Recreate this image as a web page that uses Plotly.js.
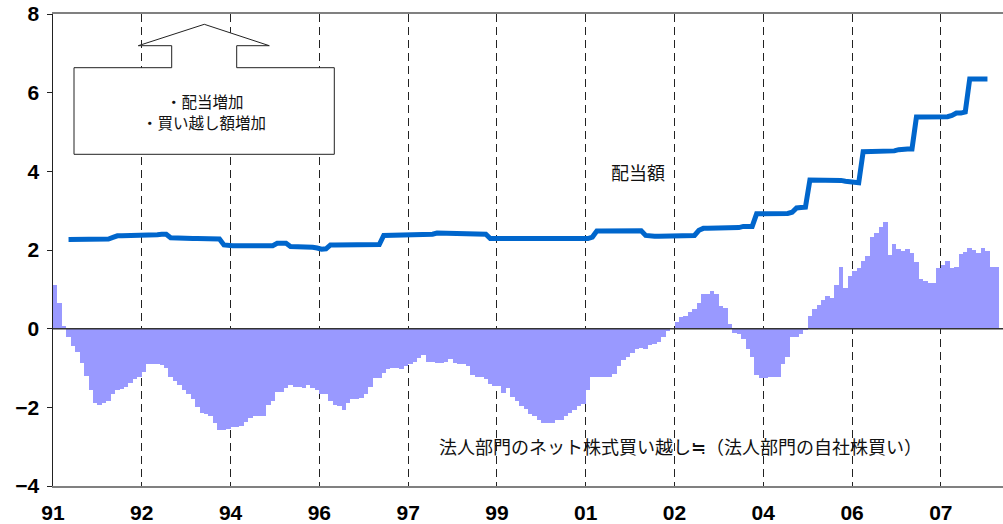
<!DOCTYPE html>
<html>
<head>
<meta charset="utf-8">
<script src="https://cdn.plot.ly/plotly-3.0.1.min.js"></script>
<style>html,body{margin:0;padding:0;background:#fff;}#chart{width:1003px;height:524px;}</style>
</head>
<body>
<div id="chart"></div>
<script>
// Monthly series starting Jan 1991 (index 0)
const tickPositions = [0, 20, 40, 60, 80, 100, 120, 140, 160, 180, 200];
const tickLabels = ["91", "92", "94", "96", "97", "99", "01", "02", "04", "06", "07"];

// 法人部門のネット株式買い越し (bars)
const netPurchase = [
  1.10,0.65,0.06,-0.20,-0.45,-0.60,-0.87,-1.21,-1.57,-1.89,
  -1.94,-1.88,-1.83,-1.66,-1.56,-1.54,-1.49,-1.39,-1.28,-1.22,
  -1.09,-0.89,-0.89,-0.90,-0.93,-1.00,-1.23,-1.32,-1.44,-1.56,
  -1.66,-1.80,-2.00,-2.15,-2.18,-2.23,-2.40,-2.57,-2.58,-2.56,
  -2.51,-2.50,-2.48,-2.38,-2.28,-2.23,-2.23,-2.22,-1.95,-1.83,
  -1.61,-1.60,-1.52,-1.42,-1.48,-1.49,-1.50,-1.43,-1.52,-1.55,
  -1.66,-1.65,-1.83,-1.95,-1.96,-2.07,-1.90,-1.79,-1.78,-1.76,
  -1.67,-1.48,-1.25,-1.25,-1.13,-1.02,-1.01,-1.00,-1.02,-0.96,
  -0.90,-0.84,-0.74,-0.67,-0.84,-0.84,-0.88,-0.88,-0.85,-0.78,
  -0.88,-0.91,-0.91,-0.96,-1.19,-1.23,-1.23,-1.29,-1.40,-1.45,
  -1.47,-1.64,-1.51,-1.74,-1.85,-1.96,-2.04,-2.17,-2.21,-2.32,
  -2.41,-2.41,-2.40,-2.32,-2.32,-2.21,-2.15,-2.08,-1.96,-1.91,
  -1.57,-1.23,-1.23,-1.24,-1.23,-1.23,-1.15,-0.95,-0.80,-0.72,
  -0.62,-0.52,-0.49,-0.52,-0.42,-0.39,-0.33,-0.20,-0.07,0.02,
  0.18,0.30,0.32,0.42,0.51,0.64,0.87,0.87,0.96,0.87,
  0.58,0.53,0.13,-0.10,-0.13,-0.26,-0.51,-0.72,-1.19,-1.25,
  -1.25,-1.24,-1.24,-1.22,-0.89,-0.72,-0.20,-0.20,-0.13,-0.04,
  0.33,0.49,0.60,0.73,0.82,0.78,1.12,1.56,1.03,1.35,
  1.46,1.54,1.73,1.86,2.33,2.43,2.58,2.71,1.88,2.15,
  2.03,1.97,2.03,1.92,1.70,1.27,1.21,1.17,1.17,1.53,
  1.61,1.71,1.53,1.56,1.91,1.95,2.04,1.99,1.92,2.04,
  1.97,1.57,1.57
];

// 配当額 (line), starts at month index 3
const dividendStart = 3;
const dividend = [
  2.27,2.27,2.27,2.27,2.27,2.27,2.27,2.27,2.27,2.28,
  2.32,
  2.36,2.36,2.36,2.36,2.36,2.36,2.36,2.36,2.36,
  2.39,2.40,2.40,
  2.31,
  2.30,2.30,2.29,2.29,2.29,2.29,2.29,2.28,2.28,2.28,2.28,
  2.13,
  2.11,2.11,2.11,2.11,2.11,2.11,2.11,2.11,2.11,2.11,2.11,
  2.17,2.17,2.17,
  2.09,2.09,2.08,2.08,2.07,2.07,
  2.05,2.02,2.03,
  2.13,2.13,2.13,2.13,2.13,2.13,2.13,2.13,2.13,2.13,2.13,
  2.14,
  2.37,2.37,2.37,2.37,2.37,2.37,2.37,2.37,2.37,2.37,2.37,
  2.40,
  2.43,2.43,2.43,2.43,2.43,2.43,2.43,2.43,2.43,2.43,2.43,
  2.40,
  2.29,2.29,2.29,2.29,2.29,2.29,2.29,2.29,2.28,2.28,2.28,2.28,2.28,2.28,2.28,2.29,2.29,2.29,2.29,2.29,2.29,2.29,2.29,
  2.33,
  2.48,2.48,2.48,2.48,2.49,2.49,2.49,2.49,2.49,2.49,2.49,
  2.37,
  2.35,2.35,2.35,2.35,2.35,2.35,2.36,2.36,2.36,2.36,2.37,
  2.50,
  2.55,2.55,2.55,2.56,2.56,2.56,2.57,2.57,2.57,
  2.60,2.60,2.60,
  2.92,2.92,2.92,2.92,2.93,2.93,2.93,2.93,
  2.96,
  3.07,3.08,3.09,
  3.78,3.78,3.78,3.79,3.79,3.79,3.79,
  3.77,3.75,3.73,3.72,3.71,
  4.50,4.50,4.51,4.51,4.51,4.52,4.52,4.52,
  4.55,
  4.57,4.57,4.57,
  5.38,5.38,5.38,5.38,5.39,5.39,5.39,5.39,
  5.42,
  5.48,5.48,
  5.51,
  6.35,6.35,6.35,6.35,6.35
];

const barX = netPurchase.map((_, i) => i + 0.5);
const lineX = dividend.map((_, i) => dividendStart + i + 0.5);

const traces = [
  {
    type: 'bar', x: barX, y: netPurchase, width: 1,
    marker: {color: '#9999FF', line: {width: 0}},
    hoverinfo: 'skip'
  },
  {
    type: 'scatter', mode: 'lines', x: lineX, y: dividend,
    line: {color: '#0066CC', width: 5},
    hoverinfo: 'skip'
  }
];

// paper coordinates helpers for decorative shapes (plot area: x 53..1003, y 14..486)
const L = 53, W = 950, B = 486, H = 472;
const px = v => (v - L) / W;
const py = v => (B - v) / H;
const boxPts = [[74,154.3],[74,67.7],[171.7,67.7],[171.7,45.7],[138.3,45.7],[204.3,24.3],[269.3,45.7],[236.7,45.7],[236.7,67.7],[334.3,67.7],[334.3,154.3]];
const boxPath = 'M' + boxPts.map(p => px(p[0]).toFixed(5) + ',' + py(p[1]).toFixed(5)).join(' L') + ' Z';

const jpFamily = '"Noto Sans CJK JP", "Noto Sans", sans-serif';
const jpFont = {family: jpFamily, size: 18, color: '#111'};
const boxFont = {family: jpFamily, size: 15.5, color: '#111'};
const numFont = {family: '"Liberation Sans", Arial, sans-serif', size: 21, color: '#000', weight: 'bold'};

const layout = {
  width: 1003, height: 524,
  margin: {l: L, r: 0, t: 14, b: 38, pad: 0},
  paper_bgcolor: '#fff', plot_bgcolor: '#fff',
  showlegend: false,
  bargap: 0,
  xaxis: {
    range: [0, 214], tickmode: 'array', tickvals: tickPositions, ticktext: tickLabels,
    showgrid: true, gridcolor: '#222', gridwidth: 1, griddash: '8px,5px',
    zeroline: false, showline: true, linecolor: '#808080', linewidth: 2, mirror: true,
    ticks: '', tickfont: numFont, ticklabelstandoff: 7, fixedrange: true
  },
  yaxis: {
    range: [-4, 8], tickmode: 'array', tickvals: [-4, -2, 0, 2, 4, 6, 8],
    showgrid: false, zeroline: false, showline: true, linecolor: '#222', linewidth: 1.5,
    ticks: 'outside', ticklen: 5, tickcolor: '#222', tickwidth: 1,
    tickfont: numFont, ticklabelstandoff: 3, fixedrange: true
  },
  shapes: [
    {type: 'line', xref: 'paper', yref: 'y', x0: 0, x1: 1, y0: 0, y1: 0, line: {color: '#333', width: 1.5}, layer: 'above'},
    {type: 'path', xref: 'paper', yref: 'paper', path: boxPath, fillcolor: '#fff', line: {color: '#222', width: 1}, layer: 'above'}
  ],
  annotations: [
    {xref: 'paper', yref: 'paper', x: px(638), y: py(172), text: '配当額', showarrow: false, font: jpFont, xanchor: 'center', yanchor: 'middle'},
    {xref: 'paper', yref: 'paper', x: px(680), y: py(446), text: '法人部門のネット株式買い越し≒（法人部門の自社株買い）', showarrow: false, font: jpFont, xanchor: 'center', yanchor: 'middle'},
    {xref: 'paper', yref: 'paper', x: px(205), y: py(100.5), text: '・配当増加', showarrow: false, font: boxFont, xanchor: 'center', yanchor: 'middle'},
    {xref: 'paper', yref: 'paper', x: px(204), y: py(122), text: '・買い越し額増加', showarrow: false, font: boxFont, xanchor: 'center', yanchor: 'middle'}
  ]
};

Plotly.newPlot('chart', traces, layout, {staticPlot: true, displayModeBar: false});
</script>
</body>
</html>
